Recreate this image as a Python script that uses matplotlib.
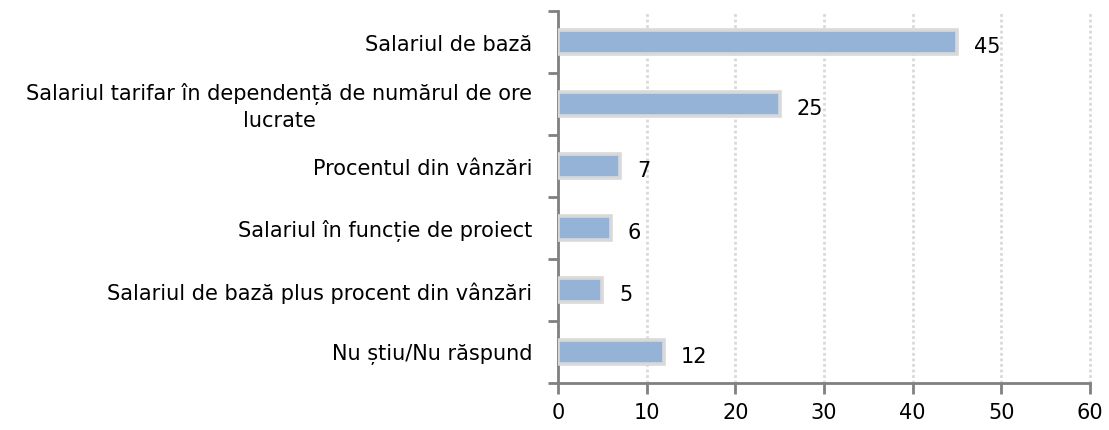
import matplotlib.pyplot as plt
import numpy as np

categories = ['Salariul de bază',
              'Salariul tarifar în dependență de numărul de ore\nlucrate',
              'Procentul din vânzări',
              'Salariul în funcție de proiect',
              'Salariul de bază plus procent din vânzări',
              'Nu știu/Nu răspund']
values = [45, 25, 7, 6, 5, 12]
x_ticks = [0, 10, 20, 30, 40, 50, 60]

fig = plt.figure(figsize=(11.09, 4.31), dpi=100)
ax = fig.add_axes([0.503, 0.109, 0.480, 0.863])

pos = np.arange(len(categories))
ax.barh(pos, values, height=0.38, color='#95B3D7', edgecolor='#D9D9D9',
        linewidth=2.6, zorder=3)

for p, v in zip(pos, values):
    ax.text(v + 1.9, p + 0.03, str(v), va='center_baseline', ha='left',
            fontsize=15, zorder=4)

ax.set_xlim(0, 60)
ax.set_ylim(len(categories) - 0.5, -0.5)
ax.set_xticks(x_ticks)
ax.set_xticklabels([str(t) for t in x_ticks], fontsize=15)
ax.tick_params(axis='x', length=8, width=2, color='#808080', pad=6)

ax.set_yticks(np.arange(len(categories) + 1) - 0.5)
ax.set_yticklabels([])
ax.tick_params(axis='y', length=7, width=2, color='#808080')
for p, c in zip(pos, categories):
    ax.text(-2.9, p + 0.03, c, va='center', ha='right', multialignment='center',
            fontsize=15, linespacing=1.4)

ax.grid(axis='x', color='#D9D9D9', linestyle=(0, (1, 1)), linewidth=2, zorder=0)
for gl in ax.xaxis.get_gridlines():
    gl.set_clip_on(False)
for s in ['top', 'right']:
    ax.spines[s].set_visible(False)
for s in ['left', 'bottom']:
    ax.spines[s].set_color('#808080')
    ax.spines[s].set_linewidth(2)

fig.savefig('out.png', dpi=100)
